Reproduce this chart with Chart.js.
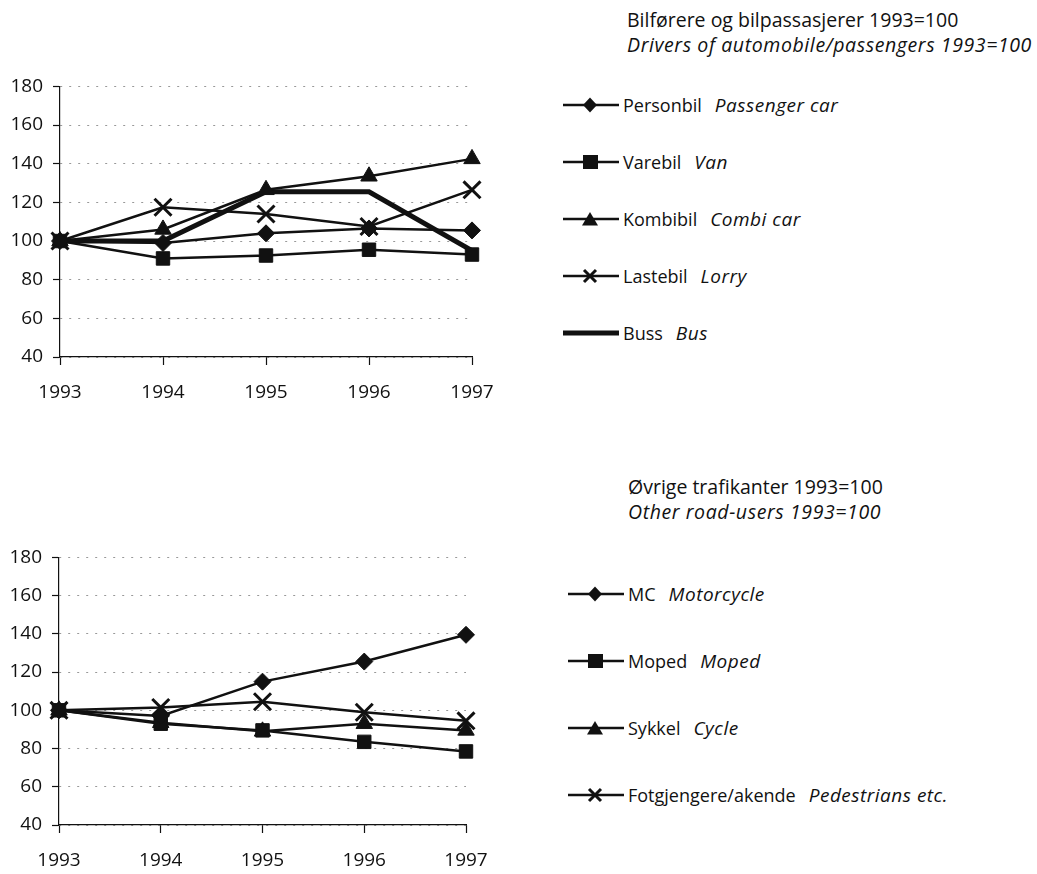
<!DOCTYPE html>
<html>
<head>
<meta charset="utf-8">
<script src="https://cdn.jsdelivr.net/npm/chart.js@4"></script>
<style>
  body { margin: 0; background: #fff; width: 1037px; height: 874px; position: relative; overflow: hidden; font-family: "Open Sans", sans-serif; color: #111; }
  .box { position: absolute; }
  .title { position: absolute; font-size: 19.5px; line-height: 25px; white-space: nowrap; }
  .title i { letter-spacing: 0.6px; }
  .item { position: absolute; height: 24px; display: flex; align-items: center; font-size: 18px; white-space: nowrap; }
  .item svg { margin-right: 4px; }
  .en { font-style: italic; margin-left: 13px; font-size: 19px; letter-spacing: 0.5px; }
</style>
</head>
<body>
<div class="title" style="left:627px;top:7px">Bilførere og bilpassasjerer 1993=100<br><i>Drivers of automobile/passengers 1993=100</i></div>
<div class="title" style="left:628px;top:474px">Øvrige trafikanter 1993=100<br><i>Other road-users 1993=100</i></div>
<div class="box" style="left:0;top:65px;width:510px;height:345px"><canvas id="topChart"></canvas></div>
<div class="box" style="left:0;top:536px;width:510px;height:338px"><canvas id="bottomChart"></canvas></div>
<div id="topLegend"></div>
<div id="bottomLegend"></div>
<script>
// data (1993 = 100)
const years = ['1993', '1994', '1995', '1996', '1997'];
const yTicks = [40, 60, 80, 100, 120, 140, 160, 180];

const personbil = [100, 99, 104, 106.5, 105.5];
const varebil = [100, 91, 92.5, 95.5, 93];
const kombibil = [100, 106, 126.5, 133.5, 142.5];
const lastebil = [100, 117.5, 114, 107.5, 126.5];
const buss = [100, 100, 125.5, 125.5, 95];

const mc = [100, 97, 115, 125.5, 139.5];
const moped = [100, 93, 89.5, 83.5, 78.5];
const sykkel = [100, 93.5, 89, 93, 89.5];
const fotgjengere = [100, 101.5, 104.5, 99, 94.5];

const topNo = ['Personbil', 'Varebil', 'Kombibil', 'Lastebil', 'Buss'];
const topEn = ['Passenger car', 'Van', 'Combi car', 'Lorry', 'Bus'];
const bottomNo = ['MC', 'Moped', 'Sykkel', 'Fotgjengere/akende'];
const bottomEn = ['Motorcycle', 'Moped', 'Cycle', 'Pedestrians etc.'];

const INK = '#111';
const tickFont = { family: 'Open Sans', size: 19 };

const ds = (label, data, style) => {
  const sizes = { rectRot: 8.5, rect: 9.5, triangle: 9.5, crossRot: 12 };
  return {
    label, data,
    borderColor: INK, backgroundColor: INK,
    borderWidth: style ? 2.5 : 5,
    pointStyle: style || 'circle',
    pointRadius: style ? sizes[style] : 0,
    pointBorderWidth: style === 'crossRot' ? 3 : 1,
    tension: 0
  };
};

const makeOptions = (yWidth, xHeight, padRight) => ({
  responsive: true,
  maintainAspectRatio: false,
  animation: false,
  layout: { padding: { top: 10, right: padRight, left: 0, bottom: 0 } },
  plugins: { legend: { display: false }, tooltip: { enabled: false } },
  scales: {
    x: {
      offset: false,
      grid: { drawOnChartArea: false, tickLength: 8, tickColor: INK, tickWidth: 1.2 },
      border: { color: INK, width: 1.2 },
      ticks: { color: INK, font: tickFont, padding: 16, maxRotation: 0, autoSkip: false },
      afterFit: s => { s.height = xHeight; }
    },
    y: {
      min: 40, max: 180,
      afterBuildTicks: s => { s.ticks = yTicks.map(v => ({ value: v })); },
      grid: { color: '#999', lineWidth: 1, tickLength: 7, tickColor: INK, tickWidth: 1.2, tickBorderDash: [] },
      border: { color: INK, width: 1.2, dash: [2, 7] },
      ticks: { color: INK, font: tickFont, padding: 10 },
      afterFit: s => { s.width = yWidth; }
    }
  }
});

new Chart(document.getElementById('topChart'), {
  type: 'line',
  data: {
    labels: years,
    datasets: [
      ds(topNo[0], personbil, 'rectRot'),
      ds(topNo[1], varebil, 'rect'),
      ds(topNo[2], kombibil, 'triangle'),
      ds(topNo[3], lastebil, 'crossRot'),
      ds(topNo[4], buss, null)
    ]
  },
  options: makeOptions(60, 53, 38)
});

new Chart(document.getElementById('bottomChart'), {
  type: 'line',
  data: {
    labels: years,
    datasets: [
      ds(bottomNo[0], mc, 'rectRot'),
      ds(bottomNo[1], moped, 'rect'),
      ds(bottomNo[2], sykkel, 'triangle'),
      ds(bottomNo[3], fotgjengere, 'crossRot')
    ]
  },
  options: makeOptions(59, 49, 44)
});

// legend icons: line with the marker in the middle
const icon = style => {
  let mark = '';
  if (style === 'rectRot') mark = '<polygon points="27,3.5 34,11 27,18.5 20,11" fill="#111"/>';
  if (style === 'rect') mark = '<rect x="20" y="4" width="15" height="14" fill="#111"/>';
  if (style === 'triangle') mark = '<polygon points="27,4 35,17.5 19,17.5" fill="#111"/>';
  if (style === 'crossRot') mark = '<path d="M21,5 L33,17 M33,5 L21,17" stroke="#111" stroke-width="3"/>';
  const w = style ? 2.5 : 5;
  return '<svg width="56" height="22"><line x1="0" y1="11" x2="56" y2="11" stroke="#111" stroke-width="' + w + '"/>' + mark + '</svg>';
};

const buildLegend = (id, left, firstY, gap, no, en, styles) => {
  const el = document.getElementById(id);
  no.forEach((name, i) => {
    const d = document.createElement('div');
    d.className = 'item';
    d.style.left = left + 'px';
    d.style.top = (firstY + i * gap - 12) + 'px';
    d.innerHTML = icon(styles[i]) + '<span>' + name + '</span><span class="en">' + en[i] + '</span>';
    el.appendChild(d);
  });
};

buildLegend('topLegend', 563, 105, 57, topNo, topEn, ['rectRot', 'rect', 'triangle', 'crossRot', null]);
buildLegend('bottomLegend', 568, 594, 67, bottomNo, bottomEn, ['rectRot', 'rect', 'triangle', 'crossRot']);
</script>
</body>
</html>
